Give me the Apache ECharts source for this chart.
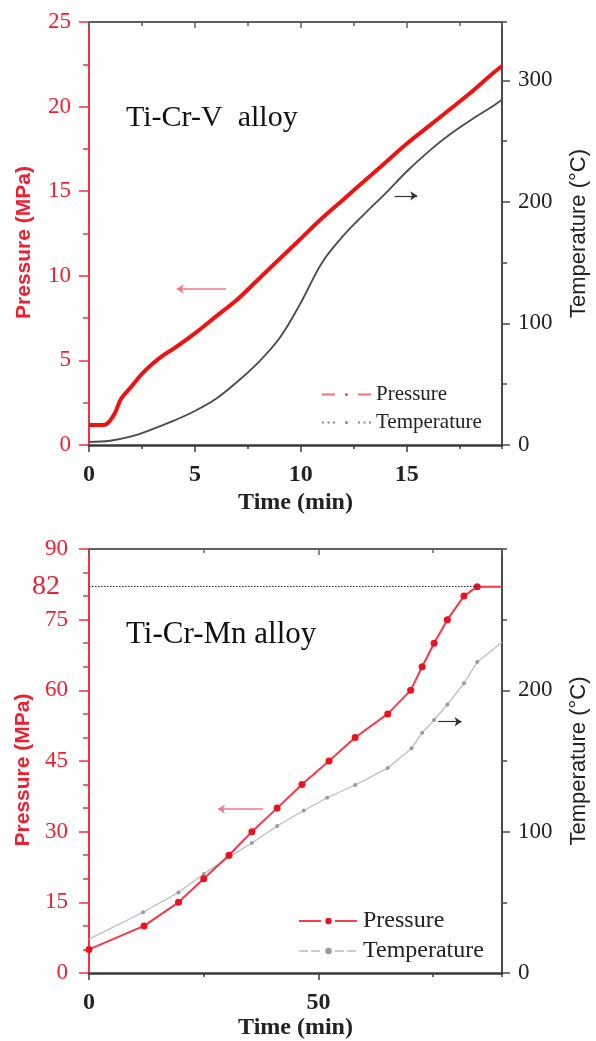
<!DOCTYPE html>
<html>
<head>
<meta charset="utf-8">
<script src="https://cdn.jsdelivr.net/npm/echarts@6/dist/echarts.min.js"></script>
<style>
html,body{margin:0;padding:0;background:#fff;}
#c{width:596px;height:1041px;}
</style>
</head>
<body>
<div id="c"></div>
<script>
// ---- Ti-Cr-V alloy (top panel) ----
const vTime = [0, 0.5, 0.75, 1.0, 1.25, 1.5, 2.0, 2.5, 3.0, 3.5, 4, 5, 6, 7, 8, 9, 10, 11, 12, 13, 14, 15, 16, 17, 18, 19, 19.5];
const vPressure = [1.18, 1.18, 1.2, 1.45, 1.95, 2.7, 3.45, 4.2, 4.8, 5.3, 5.7, 6.6, 7.6, 8.6, 9.8, 11.0, 12.2, 13.4, 14.5, 15.6, 16.7, 17.8, 18.8, 19.8, 20.8, 21.9, 22.4];
const vTempTime = [0, 1, 2, 3, 4, 5, 6, 7, 8, 9, 10, 11, 12, 13, 14, 15, 16, 17, 18, 19, 19.5];
const vTemperature = [2.5, 3.5, 7, 13, 20, 28, 38, 52, 68, 88, 117, 150, 172, 190, 207, 225, 241, 255, 267, 278, 284];

// ---- Ti-Cr-Mn alloy (bottom panel) ----
const mPTime = [0, 12, 19.5, 25, 30.5, 35.5, 41, 46.4, 52.3, 58, 65.1, 70.1, 72.6, 75.2, 78.1, 81.7, 84.6, 90];
const mPressure = [5, 10, 15, 20, 25, 30, 35, 40, 45, 50, 55, 60, 65, 70, 75, 80, 82, 82];
const mTTime = [0, 11.8, 19.5, 25, 30.5, 35.5, 41, 46.8, 51.9, 58, 65.1, 70.3, 72.6, 75.2, 78.1, 81.7, 84.6, 90];
const mTemperature = [24, 43, 57, 70, 82, 92, 104, 115, 124, 133, 145, 159, 170, 179, 190, 205, 220, 234];

const maxPressureLine = 82;

const SERIF = '"Liberation Serif", "Times New Roman", serif';
const SANS = '"Liberation Sans", Arial, sans-serif';
const RED = '#ee2030';

function pairs(xs, ys, noSymbolIdx) {
  return xs.map((x, i) => noSymbolIdx.indexOf(i) >= 0 ? {value: [x, ys[i]], symbol: 'none'} : [x, ys[i]]);
}

function xAxes(gridIndex, max, major, minor, name, nameGap) {
  const base = {type: 'value', gridIndex, min: 0, max, splitLine: {show: false}};
  return [
    Object.assign({}, base, {
      position: 'bottom', interval: major, name, nameLocation: 'middle', nameGap,
      nameTextStyle: {fontFamily: SERIF, fontSize: 24, fontWeight: 'bold', color: '#222'},
      axisLine: {onZero: false, lineStyle: {color: '#3a3a3a', width: 2.5}},
      axisTick: {show: true, inside: false, length: 7, lineStyle: {color: '#3a3a3a', width: 1.5}},
      axisLabel: {margin: 18, showMaxLabel: false, fontFamily: SERIF, fontSize: 24, fontWeight: 'bold', color: '#222'}
    }),
    Object.assign({}, base, {
      position: 'bottom', interval: minor,
      axisLine: {show: false, onZero: false},
      axisTick: {show: true, inside: false, length: 4, lineStyle: {color: '#3a3a3a', width: 1.5}},
      axisLabel: {show: false}
    }),
    Object.assign({}, base, {
      position: 'top', interval: major,
      axisLine: {onZero: false, lineStyle: {color: '#606060', width: 2}},
      axisTick: {show: true, inside: true, length: 6, lineStyle: {color: '#606060', width: 1.5}},
      axisLabel: {show: false}
    }),
    Object.assign({}, base, {
      position: 'top', interval: minor,
      axisLine: {show: false, onZero: false},
      axisTick: {show: true, inside: true, length: 4, lineStyle: {color: '#606060', width: 1.5}},
      axisLabel: {show: false}
    })
  ];
}

function leftAxis(gridIndex, max, interval, minorSplit, labelMargin) {
  return {
    type: 'value', gridIndex, position: 'left', min: 0, max, interval,
    name: 'Pressure (MPa)', nameLocation: 'middle', nameGap: 54,
    nameTextStyle: {fontFamily: SANS, fontSize: 21, fontWeight: 'bold', color: RED, padding: [0, 18, 0, 0]},
    axisLine: {show: true, onZero: false, lineStyle: {color: '#f03242', width: 2}},
    axisTick: {show: true, inside: false, length: 10, lineStyle: {color: '#f03242', width: 1.5}},
    minorTick: {show: true, splitNumber: minorSplit, length: 6, lineStyle: {color: '#f03242', width: 1.5}},
    axisLabel: {margin: labelMargin, fontFamily: SERIF, fontSize: 23, color: RED},
    splitLine: {show: false}, minorSplitLine: {show: false}
  };
}

function rightAxes(gridIndex, max) {
  return [
    {
      type: 'value', gridIndex, position: 'right', min: 0, max, interval: 100,
      name: 'Temperature (°C)', nameLocation: 'middle', nameGap: 66,
      nameTextStyle: {fontFamily: SANS, fontSize: 22, color: '#222'},
      axisLine: {show: true, onZero: false, lineStyle: {color: '#4a4a4a', width: 2}},
      axisTick: {show: true, inside: false, length: 8, lineStyle: {color: '#4a4a4a', width: 1.5}},
      axisLabel: {margin: 16, showMaxLabel: false, fontFamily: SERIF, fontSize: 23, color: '#222'},
      splitLine: {show: false}
    },
    {
      type: 'value', gridIndex, position: 'right', min: 0, max, interval: 50,
      axisLine: {show: false, onZero: false},
      axisTick: {show: true, inside: false, length: 5, lineStyle: {color: '#4a4a4a', width: 1.5}},
      axisLabel: {show: false}, splitLine: {show: false}
    }
  ];
}

function arrow(from, to, color, width) {
  return {
    silent: true, symbol: ['none', 'arrow'], symbolSize: 7, animation: false,
    label: {show: false}, emphasis: {disabled: true},
    lineStyle: {color, width, type: 'solid'},
    data: [[{coord: from}, {coord: to}]]
  };
}

const chart = echarts.init(document.getElementById('c'), null, {renderer: 'canvas'});

const option = {
  animation: false,
  backgroundColor: '#fff',
  title: [
    {text: 'Ti-Cr-V  alloy', left: 126, top: 103, padding: 0,
     textStyle: {fontFamily: SERIF, fontSize: 30, fontWeight: 'normal', color: '#111'}},
    {text: 'Ti-Cr-Mn alloy', left: 126, top: 619, padding: 0,
     textStyle: {fontFamily: SERIF, fontSize: 31, fontWeight: 'normal', color: '#111'}}
  ],
  grid: [
    {left: 89, top: 22, width: 413, height: 423, outerBoundsMode: 'none'},
    {left: 89, top: 549, width: 413, height: 424, outerBoundsMode: 'none'}
  ],
  legend: [
    {
      orient: 'vertical', left: 321, top: 384, padding: 0, itemGap: 7,
      itemWidth: 49, itemHeight: 4, selectedMode: false,
      textStyle: {fontFamily: SERIF, fontSize: 21, color: '#222'},
      data: [
        {name: 'Pressure', lineStyle: {color: '#f07080', width: 2, type: [13, 23]}, itemStyle: {color: '#f05060'}},
        {name: 'Temperature', lineStyle: {color: '#888', width: 2, type: [2, 3.5, 2, 3.5, 2, 23]}, itemStyle: {color: '#888'}}
      ]
    },
    {
      orient: 'vertical', left: 298, top: 909, padding: 0, itemGap: 6,
      itemWidth: 59, itemHeight: 8, selectedMode: false,
      formatter: function (n) { return n.split(' (')[0]; },
      textStyle: {fontFamily: SERIF, fontSize: 24, color: '#222'},
      data: [
        {name: 'Pressure (Ti-Cr-Mn)', lineStyle: {color: '#f04050', width: 2, type: [22, 14]}, itemStyle: {color: '#ee1020'}},
        {name: 'Temperature (Ti-Cr-Mn)', lineStyle: {color: '#bbb', width: 1.5, type: [9, 3, 9, 15]}, itemStyle: {color: '#999'}}
      ]
    }
  ],
  xAxis: [].concat(
    xAxes(0, 19.5, 5, 2.5, 'Time (min)', 46),
    xAxes(1, 90, 50, 25, 'Time (min)', 40)
  ),
  yAxis: [].concat(
    [leftAxis(0, 25, 5, 2, 18)],
    rightAxes(0, 348),
    [leftAxis(1, 90, 15, 3, 21)],
    rightAxes(1, 300)
  ),
  series: [
    {
      name: 'Pressure', type: 'line', xAxisIndex: 0, yAxisIndex: 0,
      data: pairs(vTime, vPressure, []), smooth: 0.35,
      symbol: 'none', lineStyle: {color: '#f01212', width: 4}, itemStyle: {color: '#f01212'},
      markLine: arrow([6.47, 9.22], [4.14, 9.22], '#f27a88', 1.6), z: 3
    },
    {
      name: 'Temperature', type: 'line', xAxisIndex: 0, yAxisIndex: 1,
      data: pairs(vTempTime, vTemperature, []), smooth: 0.35,
      symbol: 'none', lineStyle: {color: '#4a4a4a', width: 1.8}, itemStyle: {color: '#4a4a4a'},
      markLine: arrow([14.43, 205], [15.5, 205], '#333', 1.2), z: 2
    },
    {
      name: 'Pressure (Ti-Cr-Mn)', type: 'line', xAxisIndex: 4, yAxisIndex: 3,
      data: pairs(mPTime, mPressure, [mPTime.length - 1]),
      symbol: 'circle', symbolSize: 7, showAllSymbol: true,
      lineStyle: {color: '#f03a48', width: 2}, itemStyle: {color: '#ee1020'},
      markLine: {
        silent: true, symbol: ['none', 'none'], animation: false, emphasis: {disabled: true},
        lineStyle: {color: '#222', width: 1, type: [1.5, 1.5]},
        label: {show: true, position: 'start', distance: 29, formatter: String(maxPressureLine),
                fontFamily: SERIF, fontSize: 28, color: RED},
        data: [[{coord: [0, maxPressureLine]}, {coord: [84.6, maxPressureLine]}]]
      },
      z: 4
    },
    {
      name: 'Temperature (Ti-Cr-Mn)', type: 'line', xAxisIndex: 4, yAxisIndex: 4,
      data: pairs(mTTime, mTemperature, [0, mTTime.length - 1]),
      symbol: 'circle', symbolSize: 4, showAllSymbol: true,
      lineStyle: {color: '#bdbdbd', width: 1.3}, itemStyle: {color: '#9a9a9a'},
      z: 3
    },
    {
      name: 'arrowsBottom', type: 'line', xAxisIndex: 4, yAxisIndex: 3, data: [],
      markLine: arrow([37.9, 34.8], [28.1, 34.8], '#f27a88', 1.6)
    },
    {
      name: 'arrowsBottomT', type: 'line', xAxisIndex: 4, yAxisIndex: 4, data: [],
      markLine: arrow([76.1, 177.8], [81.2, 177.8], '#333', 1.2)
    }
  ]
};
chart.setOption(option);
</script>
</body>
</html>
